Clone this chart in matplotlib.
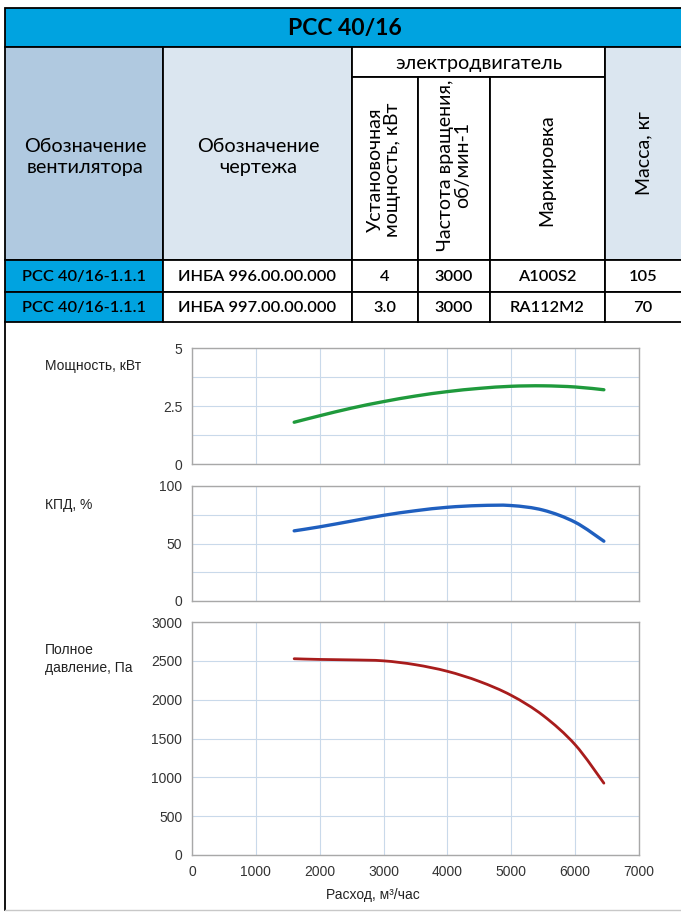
import matplotlib.pyplot as plt
from matplotlib.patches import Rectangle, PathPatch
from matplotlib.path import Path

# ---- data ----
title = "РСС 40/16"
fan_names = ["РСС 40/16-1.1.1", "РСС 40/16-1.1.1"]
drawings = ["ИНБА 996.00.00.000", "ИНБА 997.00.00.000"]
motor_power = ["4", "3.0"]
motor_rpm = ["3000", "3000"]
motor_mark = ["A100S2", "RA112M2"]
mass = ["105", "70"]

flow = [1600, 2000, 2500, 3000, 3500, 4000, 4500, 5000, 5500, 6000, 6450]
power_kw = [1.8, 2.08, 2.41, 2.69, 2.93, 3.12, 3.26, 3.35, 3.37, 3.32, 3.2]
efficiency = [61, 64.5, 69.5, 74.5, 78.5, 81.5, 83, 83, 79, 68.5, 52]
pressure = [2527, 2518, 2512, 2500, 2450, 2365, 2235, 2055, 1795, 1420, 925]

W, H = 681, 914
fig = plt.figure(figsize=(W / 100, H / 100), dpi=100)
fig.patch.set_facecolor("white")

TF = ["Lato", "DejaVu Sans"]
CF = ["Liberation Sans Narrow", "Liberation Sans", "DejaVu Sans"]

# ---- table (pixel coords) ----
tab = fig.add_axes([0, 0, 1, 1])
tab.set_xlim(0, W)
tab.set_ylim(H, 0)
tab.axis("off")

BLUE = "#00a3e0"
DARK_HDR = "#b0c9e0"
LIGHT_HDR = "#dbe6f0"


def cell(x0, x1, y0, y1, color):
    tab.add_patch(Rectangle((x0, y0), x1 - x0, y1 - y0, facecolor=color,
                            edgecolor="black", linewidth=1.3))


cols = [5, 163, 352, 418, 490, 605, 690]
cell(5, 690, 8, 47, BLUE)
tab.text(345, 29, title, ha="center", va="center", fontsize=16.5,
         fontweight="bold", family=TF)

cell(cols[0], cols[1], 47, 260, DARK_HDR)
cell(cols[1], cols[2], 47, 260, LIGHT_HDR)
cell(cols[2], cols[5], 47, 77, "white")
for i in (2, 3, 4):
    cell(cols[i], cols[i + 1], 77, 260, "white")
cell(cols[5], cols[6], 47, 260, LIGHT_HDR)

tab.text(85, 157, "Обозначение\nвентилятора", ha="center", va="center",
         fontsize=14.3, family=TF, linespacing=1.28)
tab.text(258, 157, "Обозначение\nчертежа", ha="center", va="center",
         fontsize=14.3, family=TF, linespacing=1.28)
tab.text(479, 63, "электродвигатель", ha="center", va="center",
         fontsize=14.2, family=TF)
tab.text(384, 170, "Установочная\nмощность, кВт", ha="center", va="center",
         rotation=90, fontsize=14, family=TF, linespacing=1.0)
tab.text(454, 165, "Частота вращения,\nоб/мин-1", ha="center", va="center",
         rotation=90, fontsize=14, family=TF, linespacing=1.0)
tab.text(547, 170, "Маркировка", ha="center", va="center",
         rotation=90, fontsize=14, family=TF)
tab.text(644, 153, "Масса, кг", ha="center", va="center",
         rotation=90, fontsize=14, family=TF)

rows = [(260, 292), (292, 322)]
for r, (y0, y1) in enumerate(rows):
    cell(cols[0], cols[1], y0, y1, BLUE)
    for i in range(1, 6):
        cell(cols[i], cols[i + 1], y0, y1, "white")
    vals = [fan_names[r], drawings[r], motor_power[r], motor_rpm[r],
            motor_mark[r], mass[r]]
    centers = [84, 257, 385, 454, 547, 643]
    for xc, v in zip(centers, vals):
        tab.text(xc, (y0 + y1) / 2 + 1, v, ha="center", va="center",
                 fontsize=11.8, family=TF, fontweight="semibold")

# outer frame of the chart block
tab.plot([5, 5], [322, 910], color="black", linewidth=1.3)
tab.plot([5, 690], [910, 910], color="#c8c8c8", linewidth=1.0)

# ---- charts ----
x0, x1 = 192, 639
GRID = "#c9d9ea"
SPINE = "#a8a8a8"


def chart(top, bottom):
    ax = fig.add_axes([x0 / W, 1 - bottom / H, (x1 - x0) / W, (bottom - top) / H])
    ax.set_xlim(0, 7000)
    ax.set_xticks(range(0, 7001, 1000))
    ax.grid(True, color=GRID, linewidth=0.8)
    ax.set_axisbelow(True)
    for s in ax.spines.values():
        s.set_color(SPINE)
        s.set_linewidth(1.0)
    ax.tick_params(length=0, labelsize=10, labelcolor="#333333", pad=7)
    return ax


def smooth_line(ax, xs, ys, color, lw):
    # smoothed line through the points (Catmull-Rom as cubic Bezier)
    verts = [(xs[0], ys[0])]
    codes = [Path.MOVETO]
    n = len(xs)
    for i in range(n - 1):
        p0 = (xs[max(i - 1, 0)], ys[max(i - 1, 0)])
        p1 = (xs[i], ys[i])
        p2 = (xs[i + 1], ys[i + 1])
        p3 = (xs[min(i + 2, n - 1)], ys[min(i + 2, n - 1)])
        c1 = (p1[0] + (p2[0] - p0[0]) / 6, p1[1] + (p2[1] - p0[1]) / 6)
        c2 = (p2[0] - (p3[0] - p1[0]) / 6, p2[1] - (p3[1] - p1[1]) / 6)
        verts += [c1, c2, p2]
        codes += [Path.CURVE4] * 3
    ax.add_patch(PathPatch(Path(verts, codes), facecolor="none",
                           edgecolor=color, linewidth=lw, capstyle="round"))


ax1 = chart(348, 464)
smooth_line(ax1, flow, power_kw, "#1f9a3c", 2.4)
ax1.set_ylim(0, 5)
ax1.set_yticks([0, 1.25, 2.5, 3.75, 5])
ax1.set_yticklabels(["0", "", "2.5", "", "5"], family=CF)
ax1.set_xticklabels([])

ax2 = chart(486, 601)
smooth_line(ax2, flow, efficiency, "#1f5fbf", 2.4)
ax2.set_ylim(0, 100)
ax2.set_yticks([0, 25, 50, 75, 100])
ax2.set_yticklabels(["0", "", "50", "", "100"], family=CF)
ax2.set_xticklabels([])

ax3 = chart(622, 855)
smooth_line(ax3, flow, pressure, "#a81c1c", 2.0)
ax3.set_ylim(0, 3000)
ax3.set_yticks(range(0, 3001, 500))
ax3.set_yticklabels([str(v) for v in range(0, 3001, 500)], family=CF)
ax3.set_xticklabels([str(v) for v in range(0, 7001, 1000)], family=CF)

fig.text(45 / W, 1 - 366 / H, "Мощность, кВт", fontsize=10, family=CF,
         ha="left", va="center", color="#222222")
fig.text(45 / W, 1 - 505 / H, "КПД, %", fontsize=10, family=CF,
         ha="left", va="center", color="#222222")
fig.text(45 / W, 1 - 659 / H, "Полное\nдавление, Па", fontsize=10, family=CF,
         ha="left", va="center", color="#222222", linespacing=1.4)
fig.text(373 / W, 1 - 895 / H, "Расход, м³/час", fontsize=10, family=CF,
         ha="center", va="center", color="#222222")

fig.savefig("out.png", dpi=100)
